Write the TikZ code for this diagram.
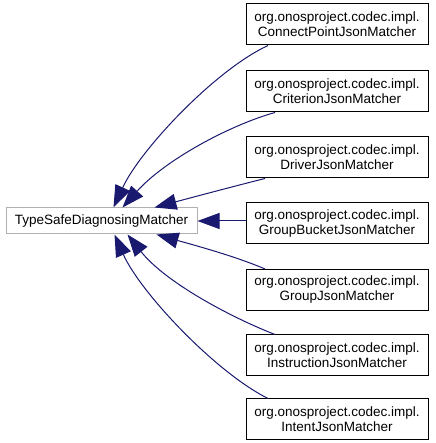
\documentclass[tikz,border=0pt]{standalone}
\usepackage{fontspec}
\setmainfont{Liberation Sans}
\usetikzlibrary{arrows.meta}
\definecolor{edgeblue}{HTML}{191970}
\definecolor{graybox}{HTML}{B0B0B0}
\begin{document}
\begin{tikzpicture}[x=1pt,y=1pt,
  basebox/.style={draw=graybox,line width=1pt,minimum width=191pt,minimum height=26pt,inner sep=0pt,font=\fontsize{13.5}{15}\selectfont},
  classbox/.style={draw=black,line width=1pt,minimum width=182pt,minimum height=41pt,inner sep=0pt,align=center,font=\fontsize{13.5}{15}\selectfont},
  inherit/.style={draw=edgeblue,line width=1pt,{Triangle[length=22pt,width=16pt]}-}]
\useasboundingbox (0,0) rectangle (435,443);
\node[basebox] (t) at (101.5,222) {TypeSafeDiagnosingMatcher};
\node[classbox] (c1) at (337,418.5) {org.onosproject.codec.impl.\\ConnectPointJsonMatcher};
\node[classbox] (c2) at (337,351.5) {org.onosproject.codec.impl.\\CriterionJsonMatcher};
\node[classbox] (c3) at (337,285.5) {org.onosproject.codec.impl.\\DriverJsonMatcher};
\node[classbox] (c4) at (337,219.5) {org.onosproject.codec.impl.\\GroupBucketJsonMatcher};
\node[classbox] (c5) at (337,153) {org.onosproject.codec.impl.\\GroupJsonMatcher};
\node[classbox] (c6) at (337,87.5) {org.onosproject.codec.impl.\\InstructionJsonMatcher};
\node[classbox] (c7) at (337,23.5) {org.onosproject.codec.impl.\\IntentJsonMatcher};
\draw[inherit] ([xshift=12pt]t.north) .. controls (140,293) and (215,373) .. ([xshift=-69pt]c1.south);
\draw[inherit] ([xshift=21pt]t.north) .. controls (165,283) and (230,318) .. ([xshift=-62pt]c2.south);
\draw[inherit] ([xshift=53pt]t.north) .. controls (190,245) and (235,257) .. ([xshift=-72pt]c3.south);
\draw[inherit] (t.east) -- (c4.west |- t.east);
\draw[inherit] ([xshift=55pt]t.south) .. controls (190,199) and (235,187) .. ([xshift=-72pt]c5.north);
\draw[inherit] ([xshift=26pt]t.south) .. controls (165,161) and (230,126) .. ([xshift=-62pt]c6.north);
\draw[inherit] ([xshift=13pt]t.south) .. controls (140,151) and (215,71) .. ([xshift=-69pt]c7.north);
\end{tikzpicture}
\end{document}
